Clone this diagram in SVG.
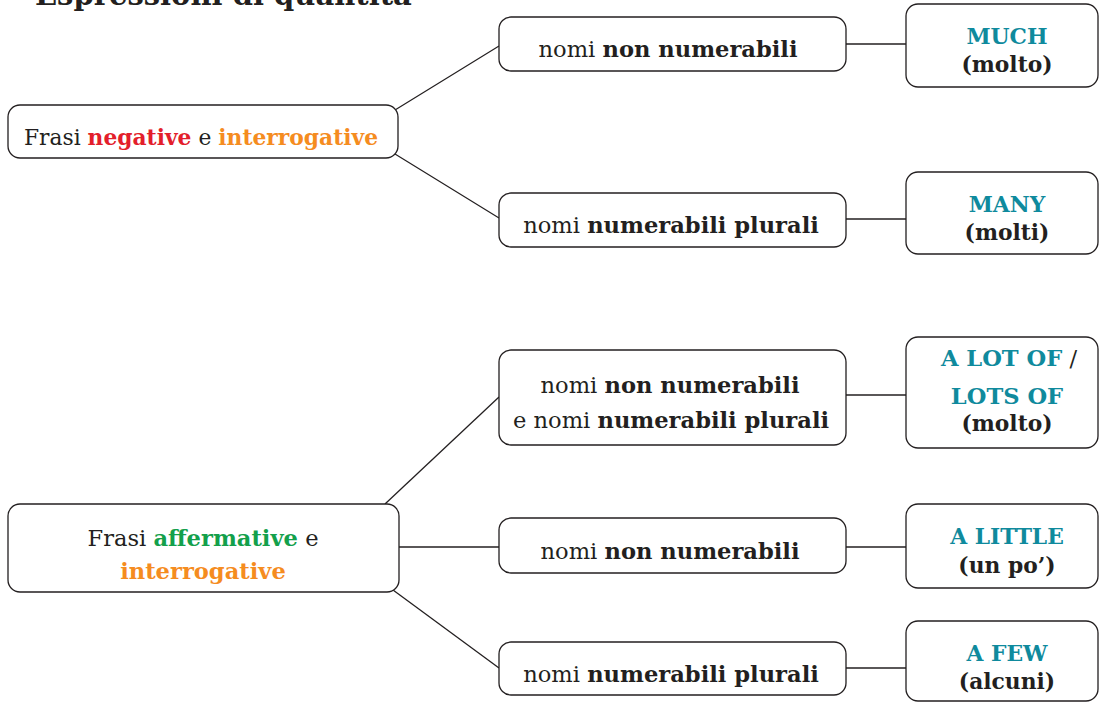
<svg xmlns="http://www.w3.org/2000/svg" width="1100" height="702" viewBox="0 0 1100 702" font-family="'DejaVu Serif', 'Liberation Serif', serif">
<style>
.box{fill:#fff;stroke:#231f20;stroke-width:1.3}
.t{font-size:22.6px;fill:#231f20;text-anchor:middle}
.b{font-weight:bold}
.red{fill:#e31e2b;font-weight:bold}
.org{fill:#f58c1f;font-weight:bold}
.grn{fill:#13a04b;font-weight:bold}
.teal{fill:#0f8a9d;font-weight:bold}
.s{font-size:21.8px}
.conn line{stroke:#231f20;stroke-width:1.3}
</style>
<rect width="1100" height="702" fill="#fff"/>
<text x="35" y="5" font-size="29" font-weight="bold" fill="#231f20">Espressioni di quantità</text>
<g class="conn">
<line x1="395" y1="110" x2="499" y2="46"/>
<line x1="395" y1="154" x2="499" y2="218"/>
<line x1="846" y1="44" x2="906" y2="44"/>
<line x1="846" y1="219" x2="906" y2="219"/>
<line x1="385" y1="504" x2="499" y2="397"/>
<line x1="399" y1="547" x2="499" y2="547"/>
<line x1="393" y1="590" x2="499" y2="668"/>
<line x1="846" y1="395" x2="906" y2="395"/>
<line x1="846" y1="547" x2="906" y2="547"/>
<line x1="846" y1="668" x2="906" y2="668"/>
</g>
<g id="neg">
<rect class="box" x="8" y="105" width="390" height="53" rx="12"/>
<text class="t s" x="201" y="145">Frasi <tspan class="red">negative</tspan> e <tspan class="org">interrogative</tspan></text>
</g>
<g id="neg-nonnum">
<rect class="box" x="499" y="17" width="347" height="54" rx="12"/>
<text class="t" x="668" y="57" font-size="23.5">nomi <tspan class="b">non numerabili</tspan></text>
</g>
<g id="neg-plur">
<rect class="box" x="499" y="193" width="347" height="54" rx="12"/>
<text class="t" x="671" y="233">nomi <tspan class="b">numerabili plurali</tspan></text>
</g>
<g id="much">
<rect class="box" x="906" y="4" width="192" height="83" rx="12"/>
<text class="t s" x="1007" y="44"><tspan class="teal">MUCH</tspan></text>
<text class="t b s" x="1007" y="72">(molto)</text>
</g>
<g id="many">
<rect class="box" x="906" y="172" width="192" height="82" rx="12"/>
<text class="t s" x="1007" y="212"><tspan class="teal">MANY</tspan></text>
<text class="t b s" x="1007" y="240">(molti)</text>
</g>
<g id="aff">
<rect class="box" x="8" y="504" width="391" height="88" rx="12"/>
<text class="t" x="203" y="546">Frasi <tspan class="grn">affermative</tspan> e</text>
<text class="t" x="203" y="579"><tspan class="org">interrogative</tspan></text>
</g>
<g id="aff-both">
<rect class="box" x="499" y="350" width="347" height="95" rx="12"/>
<text class="t" x="670" y="393" font-size="23.5">nomi <tspan class="b">non numerabili</tspan></text>
<text class="t" x="671" y="428">e nomi <tspan class="b">numerabili plurali</tspan></text>
</g>
<g id="alot">
<rect class="box" x="906" y="337" width="192" height="111" rx="12"/>
<text class="t" x="1009" y="366"><tspan class="teal">A LOT OF</tspan> /</text>
<text class="t" x="1007" y="404"><tspan class="teal">LOTS OF</tspan></text>
<text class="t b s" x="1007" y="431">(molto)</text>
</g>
<g id="aff-nonnum">
<rect class="box" x="499" y="518" width="347" height="55" rx="12"/>
<text class="t" x="670" y="559" font-size="23.5">nomi <tspan class="b">non numerabili</tspan></text>
</g>
<g id="alittle">
<rect class="box" x="906" y="504" width="192" height="84" rx="12"/>
<text class="t s" x="1007" y="544"><tspan class="teal">A LITTLE</tspan></text>
<text class="t b s" x="1007" y="573">(un po’)</text>
</g>
<g id="aff-plur">
<rect class="box" x="499" y="642" width="347" height="53" rx="12"/>
<text class="t" x="671" y="682">nomi <tspan class="b">numerabili plurali</tspan></text>
</g>
<g id="afew">
<rect class="box" x="906" y="621" width="192" height="80" rx="12"/>
<text class="t s" x="1007" y="661"><tspan class="teal">A FEW</tspan></text>
<text class="t b s" x="1007" y="689">(alcuni)</text>
</g>
</svg>
